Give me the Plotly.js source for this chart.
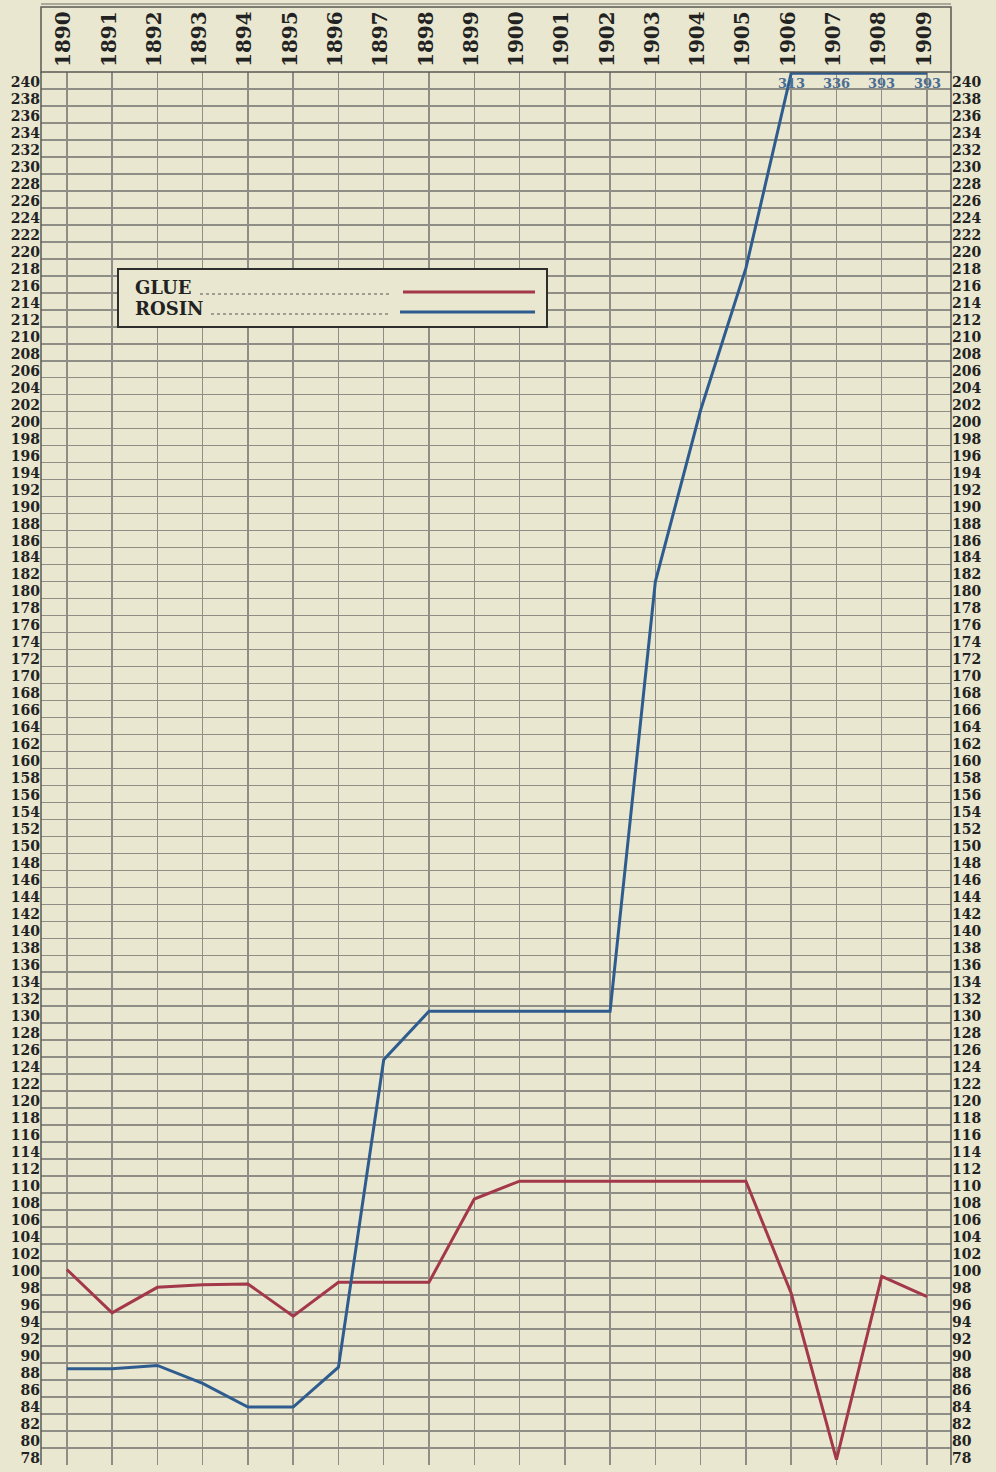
<!DOCTYPE html>
<html>
<head>
<meta charset="utf-8">
<script src="https://cdn.plot.ly/plotly-3.0.1.min.js"></script>
<style>
  html, body { margin: 0; padding: 0; background: #e9e7cf; }
  #chart { width: 996px; height: 1472px; }
</style>
</head>
<body>
<div id="chart"></div>
<script>
// ---- data ----
const years = [1890, 1891, 1892, 1893, 1894, 1895, 1896, 1897, 1898, 1899,
               1900, 1901, 1902, 1903, 1904, 1905, 1906, 1907, 1908, 1909];
const glue  = [101.0, 95.9, 98.9, 99.2, 99.3, 95.5, 99.5, 99.5, 99.5, 109.3,
               111.4, 111.4, 111.4, 111.4, 111.4, 111.4, 98.2, 78.6, 100.2, 97.8];
const rosin = [89.3, 89.3, 89.7, 87.6, 84.8, 84.8, 89.5, 125.7, 131.4, 131.4,
               131.4, 131.4, 131.4, 182.0, 202.2, 218.9, 313, 336, 393, 393];
const yTicks = [];
for (let v = 78; v <= 240; v += 2) yTicks.push(v);
const seriesNames = ["GLUE", "ROSIN"];

// ---- styling ----
const BG = "#e9e7cf";
const GRID = "#8e8e86";
const RED = "#a3384a";
const BLUE = "#2f5c8e";
const Y_MIN = 78, Y_MAX = 242;
const X_MIN = 1889.43, X_MAX = 1909.53;
const tickFont = {family: "DejaVu Serif", size: 14, color: "#222", weight: "bold"};

// values above the chart top run along the top edge, with their value printed
const rosinShown = rosin.map(v => Math.min(v, Y_MAX - 0.15));
const offAnn = [];
years.forEach((yr, i) => {
  if (rosin[i] > Y_MAX) {
    offAnn.push({
      x: yr, xref: "x", y: 1, yref: "paper", yanchor: "top", yshift: -2,
      text: String(rosin[i]), showarrow: false,
      font: {family: "DejaVu Serif", size: 13, color: "#4c6d94", weight: "bold"}
    });
  }
});

const traces = [
  {x: years, y: glue, type: "scatter", mode: "lines", name: seriesNames[0],
   line: {color: RED, width: 3}, hoverinfo: "x+y"},
  {x: years, y: rosinShown, type: "scatter", mode: "lines", name: seriesNames[1],
   line: {color: BLUE, width: 3}, hoverinfo: "x+y"},
  {x: years, y: glue, type: "scatter", mode: "lines", yaxis: "y2",
   line: {color: "rgba(0,0,0,0)", width: 0}, showlegend: false, hoverinfo: "skip"}
];

// plot area geometry for the decorative legend box (paper coords)
const L = 41, R = 951, T = 72, B = 1465;
const px = x => (x - L) / (R - L);
const py = y => (B - y) / (B - T);

const shapes = [
  // heavy reference line at 100
  {type: "line", xref: "paper", x0: 0, x1: 1, yref: "y", y0: 100, y1: 100,
   line: {color: "#4a4a46", width: 2}, layer: "below"},
  // header box around year labels
  {type: "rect", xref: "paper", x0: 0, x1: 1, yref: "paper", y0: 1, y1: py(7),
   line: {color: "#5a5a55", width: 1.5}},
  {type: "line", xref: "paper", x0: 0, x1: 1, yref: "paper", y0: py(4), y1: py(4),
   line: {color: "#6a6a64", width: 1}},
  // plot frame
  {type: "line", xref: "paper", x0: 0, x1: 0, yref: "paper", y0: 0, y1: 1,
   line: {color: "#5a5a55", width: 1.5}},
  {type: "line", xref: "paper", x0: 1, x1: 1, yref: "paper", y0: 0, y1: 1,
   line: {color: "#5a5a55", width: 1.5}},
  // legend box
  {type: "rect", xref: "paper", yref: "paper", x0: px(118), x1: px(547), y0: py(327), y1: py(269),
   fillcolor: BG, line: {color: "#2e2e2c", width: 2}, layer: "above"},
  {type: "line", xref: "paper", yref: "paper", x0: px(200), x1: px(390), y0: py(294), y1: py(294),
   line: {color: "#555", width: 1, dash: "dot"}},
  {type: "line", xref: "paper", yref: "paper", x0: px(211), x1: px(390), y0: py(314), y1: py(314),
   line: {color: "#555", width: 1, dash: "dot"}},
  {type: "line", xref: "paper", yref: "paper", x0: px(403), x1: px(535), y0: py(292), y1: py(292),
   line: {color: RED, width: 3}},
  {type: "line", xref: "paper", yref: "paper", x0: px(400), x1: px(535), y0: py(312), y1: py(312),
   line: {color: BLUE, width: 3}}
];

const legendFont = {family: "DejaVu Serif", size: 18, color: "#222", weight: "bold"};
const annotations = offAnn.concat([
  {xref: "paper", yref: "paper", x: px(133), y: py(287), xanchor: "left", yanchor: "middle",
   text: seriesNames[0], showarrow: false, font: legendFont},
  {xref: "paper", yref: "paper", x: px(133), y: py(308), xanchor: "left", yanchor: "middle",
   text: seriesNames[1], showarrow: false, font: legendFont}
]);

const yCommon = {
  range: [Y_MIN - 0.02, Y_MAX],
  tickmode: "array", tickvals: yTicks, ticktext: yTicks.map(String),
  tickfont: tickFont, ticks: "", ticklabelshift: -7,
  showline: false, zeroline: false, fixedrange: true
};

const layout = {
  width: 996, height: 1472,
  paper_bgcolor: BG, plot_bgcolor: BG,
  margin: {l: L, r: 996 - R, t: T, b: 1472 - B, pad: 0},
  showlegend: false,
  xaxis: {
    range: [X_MIN, X_MAX], side: "top",
    tickmode: "array", tickvals: years, ticktext: years.map(String),
    tickangle: -90, ticks: "", ticklabelstandoff: 4, ticklabelshift: -3,
    tickfont: {family: "DejaVu Serif", size: 20, color: "#222", weight: "bold"},
    showgrid: true, gridcolor: GRID, gridwidth: 1.5,
    zeroline: false, showline: false, fixedrange: true
  },
  yaxis: Object.assign({}, yCommon, {
    side: "left", showgrid: true, gridcolor: GRID, gridwidth: 1.5
  }),
  yaxis2: Object.assign({}, yCommon, {
    side: "right", overlaying: "y", showgrid: false
  }),
  shapes: shapes,
  annotations: annotations
};

Plotly.newPlot("chart", traces, layout, {displayModeBar: false, staticPlot: true});
</script>
</body>
</html>
